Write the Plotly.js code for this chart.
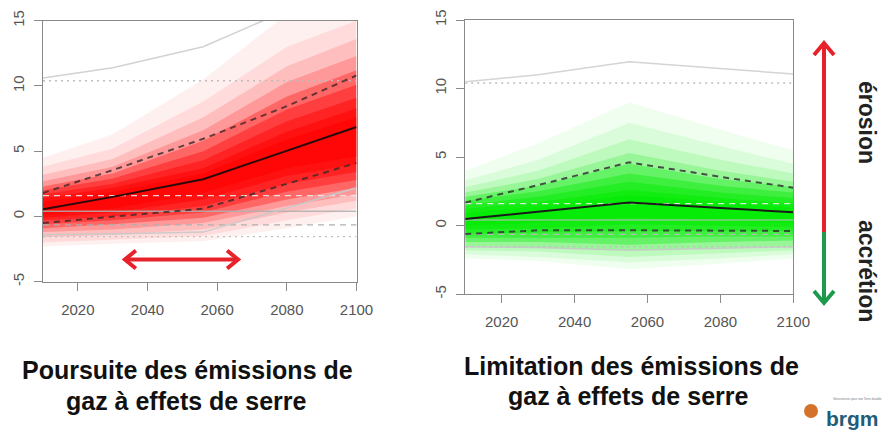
<!DOCTYPE html>
<html>
<head>
<meta charset="utf-8">
<script src="https://cdn.plot.ly/plotly-3.0.1.min.js"></script>
<style>
html,body{margin:0;padding:0;background:#fff;}
#chart{width:896px;height:431px;}
</style>
</head>
<body>
<div id="chart"></div>
<script>
// ---------- DATA ----------
// Left panel: continued emissions (red)
const yearsL = [2010, 2030, 2056, 2080, 2100];
const medianL = [0.55, 1.5, 2.85, 5.0, 6.85];
const upperDashL = [1.8, 3.55, 5.95, 8.45, 10.8];
const lowerDashL = [-0.5, 0.0, 0.6, 2.5, 4.1];
const upperGrayL = [10.6, 11.4, 13.0, 15.8, 17.5];
const lowerGrayL = [-1.4, -1.35, -1.2, 0.65, 2.2];
// fan edges, outermost (faint) to innermost (strong)
const fanLowL = [
  [-2.3, -2.1, -1.9, -0.9, 0.0],
  [-2.0, -1.8, -1.5, -0.3, 0.6],
  [-1.6, -1.4, -1.0, 0.3, 1.2],
  [-1.2, -1.0, -0.5, 0.8, 1.7],
  [-0.9, -0.6, -0.1, 1.3, 2.2],
  [-0.6, -0.3, 0.3, 1.9, 2.8],
  [-0.3, 0.0, 0.8, 2.5, 3.4],
  [-0.1, 0.3, 1.3, 3.1, 4.0],
  [0.1, 0.6, 1.8, 3.7, 4.6]
];
const fanHighL = [
  [4.5, 6.3, 10.5, 15.5, 17.5],
  [3.8, 5.2, 8.8, 13.0, 15.0],
  [3.2, 4.4, 7.6, 11.5, 13.6],
  [2.7, 3.8, 6.6, 10.3, 12.3],
  [2.3, 3.3, 5.8, 9.2, 11.2],
  [2.0, 2.9, 5.0, 8.2, 10.1],
  [1.7, 2.5, 4.3, 7.3, 9.1],
  [1.4, 2.2, 3.7, 6.5, 8.3],
  [1.1, 1.9, 3.3, 5.9, 7.6]
];

// Right panel: limited emissions (green)
const yearsR = [2010, 2030, 2055, 2080, 2100];
const medianR = [0.47, 1.0, 1.67, 1.28, 0.96];
const upperDashR = [1.67, 2.95, 4.61, 3.55, 2.76];
const lowerDashR = [-0.62, -0.35, -0.35, -0.38, -0.4];
const upperGrayR = [10.5, 11.0, 11.96, 11.47, 11.06];
const lowerGrayR = [-1.55, -1.6, -1.8, -1.65, -1.55];
const fanLowR = [
  [-2.4, -2.6, -3.2, -2.8, -2.4],
  [-2.1, -2.3, -2.7, -2.4, -2.1],
  [-1.8, -1.9, -2.3, -2.0, -1.8],
  [-1.5, -1.6, -1.8, -1.6, -1.5],
  [-1.2, -1.2, -1.4, -1.2, -1.1],
  [-0.9, -0.9, -0.9, -0.8, -0.8],
  [-0.6, -0.5, -0.4, -0.4, -0.4],
  [-0.3, -0.2, 0.1, 0.0, -0.1],
  [0.0, 0.2, 0.6, 0.4, 0.2]
];
const fanHighR = [
  [4.0, 6.0, 9.0, 7.0, 5.5],
  [3.3, 4.8, 7.5, 5.8, 4.5],
  [2.8, 4.0, 6.3, 4.8, 3.8],
  [2.4, 3.4, 5.3, 4.0, 3.2],
  [2.1, 2.9, 4.5, 3.4, 2.8],
  [1.8, 2.5, 3.8, 2.9, 2.4],
  [1.5, 2.1, 3.2, 2.4, 2.0],
  [1.2, 1.7, 2.6, 2.0, 1.6],
  [0.9, 1.4, 2.2, 1.7, 1.3]
];

// present-day reference levels (horizontal lines)
const refLevels = [10.4, 1.6, 0.4, -0.65, -1.55];

// horizontal arrow in the left panel (years, level)
const arrowYears = [2033.5, 2066];
const arrowLevel = -3.3;

// axis ticks
const xTickVals = [2020, 2040, 2060, 2080, 2100];
const xTickText = ['2020', '2040', '2060', '2080', '2100'];
const yTickVals = [-5, 0, 5, 10, 15];
const yTickText = ['-5', '0', '5', '10', '15'];

// ---------- STYLES ----------
const fanAlpha = [0.06, 0.085, 0.13, 0.2, 0.33, 0.375, 0.44, 0.5, 0.57];
const refDash = ['2px,4px', '6px,5px', 'solid', '6px,5px', '2px,4px'];
const refColorL = ['#bdbdbd', 'rgba(235,235,235,0.9)', 'rgba(175,175,175,0.85)', '#b0b0b0', '#c0c0c0'];
const refColorR = ['#bdbdbd', 'rgba(235,235,235,0.9)', 'rgba(190,190,190,0.7)', '#b8b8b8', '#c0c0c0'];

const traces = [];
function fan(xs, lows, highs, rgb, xa, ya) {
  lows.forEach((lo, i) => {
    const hi = highs[i];
    traces.push({
      type: 'scatter', mode: 'lines',
      x: xs.concat(xs.slice().reverse()),
      y: lo.concat(hi.slice().reverse()),
      fill: 'toself', fillcolor: 'rgba(' + rgb + ',' + fanAlpha[i] + ')',
      line: {width: 0}, hoverinfo: 'skip', xaxis: xa, yaxis: ya
    });
  });
}
function line(xs, ys, color, width, dash, xa, ya) {
  traces.push({
    type: 'scatter', mode: 'lines', x: xs, y: ys,
    line: {color: color, width: width, dash: dash},
    hoverinfo: 'skip', xaxis: xa, yaxis: ya
  });
}

// left panel
fan(yearsL, fanLowL, fanHighL, '255,0,0', 'x', 'y');
refLevels.forEach((v, i) => line([yearsL[0], yearsL[yearsL.length - 1]], [v, v], refColorL[i], 1.3, refDash[i], 'x', 'y'));
line(yearsL, upperGrayL, '#d2d2d2', 1.5, 'solid', 'x', 'y');
line(yearsL, lowerGrayL, 'rgba(200,200,200,0.9)', 1.5, 'solid', 'x', 'y');
line(yearsL, upperDashL, 'rgba(60,40,40,0.8)', 2, '6px,5px', 'x', 'y');
line(yearsL, lowerDashL, 'rgba(60,40,40,0.8)', 2, '6px,5px', 'x', 'y');
line(yearsL, medianL, '#2a0a0a', 2, 'solid', 'x', 'y');

// right panel
fan(yearsR, fanLowR, fanHighR, '0,235,0', 'x2', 'y2');
refLevels.forEach((v, i) => line([yearsR[0], yearsR[yearsR.length - 1]], [v, v], refColorR[i], 1.3, refDash[i], 'x2', 'y2'));
line(yearsR, upperGrayR, '#d4d4d4', 1.5, 'solid', 'x2', 'y2');
line(yearsR, lowerGrayR, 'rgba(200,200,200,0.9)', 1.5, 'solid', 'x2', 'y2');
line(yearsR, upperDashR, 'rgba(50,50,50,0.85)', 2, '6px,5px', 'x2', 'y2');
line(yearsR, lowerDashR, 'rgba(50,50,50,0.85)', 2, '6px,5px', 'x2', 'y2');
line(yearsR, medianR, '#1a1a1a', 2, 'solid', 'x2', 'y2');

const W = 896, H = 431;
function xaxisDef(d0, d1, anchor) {
  return {
    domain: [d0 / W, d1 / W], anchor: anchor, range: [2010, 2100],
    tickvals: xTickVals, ticktext: xTickText,
    ticks: 'outside', ticklen: 8, tickwidth: 1, tickcolor: '#8a8a8a',
    showline: true, linecolor: '#8a8a8a', linewidth: 1, mirror: true,
    showgrid: false, zeroline: false, ticklabelstandoff: 6,
    tickfont: {family: 'Liberation Sans, Arial, sans-serif', size: 15, color: '#555'}
  };
}
function yaxisDef(top, bottom, anchor) {
  return {
    domain: [(H - bottom) / H, (H - top) / H], anchor: anchor, range: [-5, 15],
    tickvals: yTickVals, ticktext: yTickText, tickangle: -90,
    ticks: 'outside', ticklen: 8, tickwidth: 1, tickcolor: '#8a8a8a',
    showline: true, linecolor: '#8a8a8a', linewidth: 1, mirror: true,
    showgrid: false, zeroline: false, ticklabelstandoff: 4,
    tickfont: {family: 'Liberation Sans, Arial, sans-serif', size: 15, color: '#555'}
  };
}

const red = '#e8222a', green = '#1d9a4c';
const shapes = [
  // horizontal arrow (left panel)
  {type: 'line', xref: 'x', yref: 'y', x0: arrowYears[0] + 0.4, x1: arrowYears[1] - 0.4, y0: arrowLevel, y1: arrowLevel,
   line: {color: red, width: 4}, layer: 'above'},
  {type: 'path', xref: 'x', yref: 'y', xsizemode: 'pixel', ysizemode: 'pixel', xanchor: arrowYears[0], yanchor: arrowLevel,
   path: 'M 11 9 L 0 0 L 11 -9', line: {color: red, width: 4}, layer: 'above'},
  {type: 'path', xref: 'x', yref: 'y', xsizemode: 'pixel', ysizemode: 'pixel', xanchor: arrowYears[1], yanchor: arrowLevel,
   path: 'M -11 9 L 0 0 L -11 -9', line: {color: red, width: 4}, layer: 'above'},
  // vertical arrow (right side)
  {type: 'line', xref: 'paper', yref: 'paper', x0: 824 / W, x1: 824 / W, y0: 1 - 45 / H, y1: 1 - 232 / H,
   line: {color: red, width: 4}},
  {type: 'line', xref: 'paper', yref: 'paper', x0: 824 / W, x1: 824 / W, y0: 1 - 232 / H, y1: 1 - 301 / H,
   line: {color: green, width: 4}},
  {type: 'path', xref: 'paper', yref: 'paper', xsizemode: 'pixel', ysizemode: 'pixel', xanchor: 824 / W, yanchor: 1 - 43 / H,
   path: 'M -10 -12 L 0 0 L 10 -12', line: {color: red, width: 4}},
  {type: 'path', xref: 'paper', yref: 'paper', xsizemode: 'pixel', ysizemode: 'pixel', xanchor: 824 / W, yanchor: 1 - 303 / H,
   path: 'M -10 12 L 0 0 L 10 12', line: {color: green, width: 4}},
  // logo circle
  {type: 'circle', xref: 'paper', yref: 'paper', xsizemode: 'pixel', ysizemode: 'pixel', xanchor: 811 / W, yanchor: 1 - 411 / H,
   x0: -7, x1: 7, y0: -7, y1: 7, fillcolor: '#d4722c', line: {width: 0}}
];

const tFont = {family: 'Liberation Sans, Arial, sans-serif', size: 25, color: '#111', weight: 'bold'};
const sFont = {family: 'Liberation Sans, Arial, sans-serif', size: 23, color: '#222', weight: 'bold'};
const annotations = [
  {xref: 'paper', yref: 'paper', x: 187 / W, y: 1 - 370 / H, text: 'Poursuite des émissions de', showarrow: false, font: tFont, xanchor: 'center', yanchor: 'middle'},
  {xref: 'paper', yref: 'paper', x: 186 / W, y: 1 - 401 / H, text: 'gaz à effets de serre', showarrow: false, font: tFont, xanchor: 'center', yanchor: 'middle'},
  {xref: 'paper', yref: 'paper', x: 631 / W, y: 1 - 366 / H, text: 'Limitation des émissions de', showarrow: false, font: tFont, xanchor: 'center', yanchor: 'middle'},
  {xref: 'paper', yref: 'paper', x: 628 / W, y: 1 - 396 / H, text: 'gaz à effets de serre', showarrow: false, font: tFont, xanchor: 'center', yanchor: 'middle'},
  {xref: 'paper', yref: 'paper', x: 867 / W, y: 1 - 122 / H, text: 'érosion', textangle: 90, showarrow: false, font: sFont, xanchor: 'center', yanchor: 'middle'},
  {xref: 'paper', yref: 'paper', x: 867 / W, y: 1 - 271 / H, text: 'accrétion', textangle: 90, showarrow: false, font: sFont, xanchor: 'center', yanchor: 'middle'},
  {xref: 'paper', yref: 'paper', x: 825 / W, y: 0, text: 'brgm', showarrow: false, borderpad: 0,
   font: {family: 'Liberation Sans, Arial, sans-serif', size: 21, color: '#1f5d78', weight: 'bold'}, xanchor: 'left', yanchor: 'bottom'},
  {xref: 'paper', yref: 'paper', x: 832 / W, y: 1 - 399 / H, text: 'Géosciences pour une Terre durable', showarrow: false, borderpad: 0,
   font: {family: 'Liberation Sans, Arial, sans-serif', size: 3, color: '#777'}, xanchor: 'left', yanchor: 'middle'}
];

const layout = {
  width: W, height: H, margin: {l: 0, r: 0, t: 0, b: 0},
  paper_bgcolor: '#fff', plot_bgcolor: '#fff', showlegend: false,
  xaxis: xaxisDef(43, 356.5, 'y'),
  yaxis: yaxisDef(20.7, 281.7, 'x'),
  xaxis2: xaxisDef(465.2, 793.3, 'y2'),
  yaxis2: yaxisDef(20, 294, 'x2'),
  shapes: shapes, annotations: annotations
};

Plotly.newPlot('chart', traces, layout, {displayModeBar: false, staticPlot: true});
</script>
</body>
</html>
